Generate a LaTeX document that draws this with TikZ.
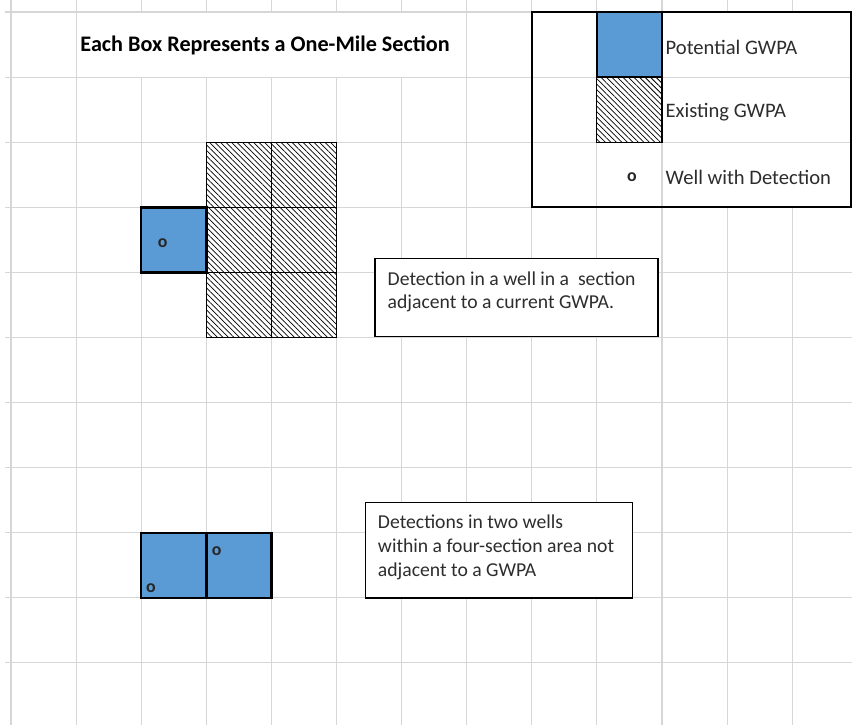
\documentclass[tikz,border=0pt]{standalone}
\usepackage{fontspec}
\setmainfont{Carlito}
\usetikzlibrary{patterns.meta}

\definecolor{gwpablue}{RGB}{91,155,213}
\definecolor{gridgray}{RGB}{214,214,214}
\definecolor{textgray}{RGB}{45,45,45}

\tikzset{
    gridline/.style={color=gridgray, line width=0.45pt},
    potential/.style={fill=gwpablue, draw=black, line width=1.1pt},
    existing/.style={draw=black, line width=0.45pt,
        pattern={Lines[angle=-45, distance=1.7pt, line width=0.35pt]}},
    well/.style={font=\bfseries\fontsize{7.8}{9}\selectfont, inner sep=0pt, text=black!85},
    legendtext/.style={font=\fontsize{9}{11}\selectfont, text=textgray, anchor=west, inner sep=0pt},
    notebox/.style={draw=black, fill=white, line width=0.55pt},
    notetext/.style={font=\fontsize{8.6}{10.4}\selectfont, text=textgray, align=left,
        anchor=north west, inner sep=0pt}
}

\begin{document}
\begin{tikzpicture}
        \useasboundingbox (-0.169,0.184) rectangle (12.919,-10.952);
        \fill[white] (-0.169,0.184) rectangle (12.919,-10.952);

        %Sheet grid, one square per section
        \foreach \x in {0,...,12} {
            \draw[gridline] (\x,0.184) -- (\x,-10.952);
        }
        %merged cells of the title and the legend texts
        \fill[white] (1.02,0) rectangle (6.98,-1);
        \fill[white] (10.02,0) rectangle (12.919,-3);
        \foreach \y in {0,...,10} {
            \draw[gridline] (-0.09,-\y) -- (12.919,-\y);
        }

        \node[font=\bfseries\fontsize{9.7}{11}\selectfont, anchor=west, inner sep=0pt] (title) at (1.06,-0.52) {Each Box Represents a One-Mile Section};

        %Legend
        \filldraw[potential] (9,0) rectangle (10,-1);
        \draw[existing] (9,-1) rectangle (10,-2);
        \draw[black, line width=1pt] (8,0) rectangle (12.9,-3);
        \node[legendtext] (potential) at (10.05,-0.54) {Potential GWPA};
        \node[legendtext] (existing) at (10.05,-1.54) {Existing GWPA};
        \node[well] (wellkey) at (9.54,-2.53) {o};
        \node[legendtext] (welltext) at (10.05,-2.54) {Well with Detection};

        %Section next to the existing GWPA
        \foreach \x in {3,4} {
            \foreach \y in {2,3,4} {
                \draw[existing] (\x,-\y) rectangle ++(1,-1);
            }
        }
        \filldraw[potential] (2,-3) rectangle (3,-4);
        \node[well] (wellA) at (2.33,-3.55) {o};
        \draw[notebox] (5.59,-3.79) rectangle (9.94,-4.99);
        \node[notetext] (noteA) at (5.78,-3.98) {Detection in a well in a\ \ section\\adjacent to a current GWPA.};

        %Two wells in a four-section area
        \filldraw[potential] (2,-8) rectangle (4,-9);
        \draw[black, line width=1.1pt] (3,-8) -- (3,-9);
        \node[well] (wellB) at (3.16,-8.28) {o};
        \node[well] (wellC) at (2.15,-8.85) {o};
        \draw[notebox] (5.44,-7.53) rectangle (9.55,-9.0);
        \node[notetext] (noteB) at (5.63,-7.72) {Detections in two wells\\within a four-section area not\\adjacent to a GWPA};
    \end{tikzpicture}
\end{document}
